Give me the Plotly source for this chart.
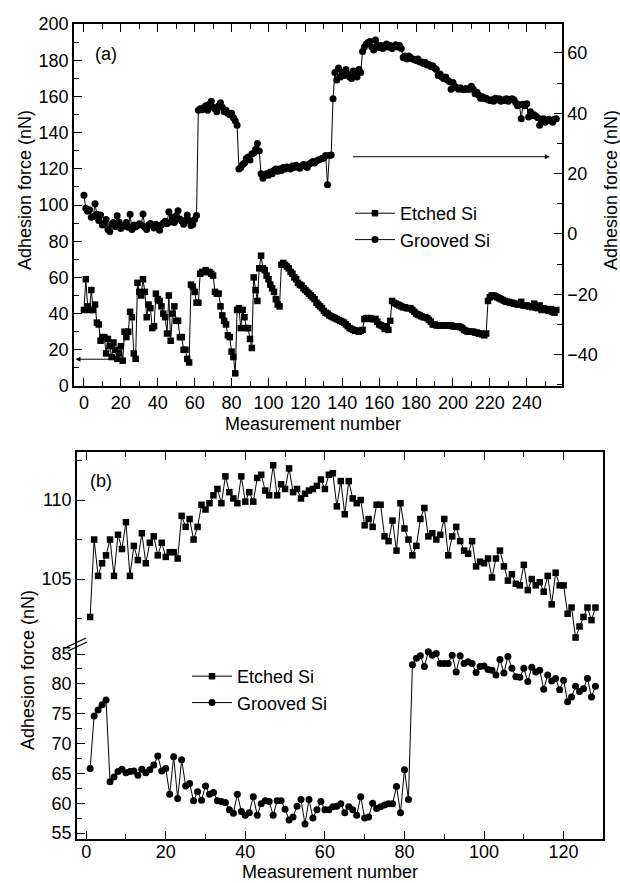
import plotly.graph_objects as go

# ---------------- Panel (a) data ----------------
etched_a = [
    42, 59, 44, 42, 53, 42, 45, 35, 34, 25,
    27, 27, 18, 26, 22, 16, 24, 20, 15, 18,
    22, 14, 30, 27, 30, 41, 38, 18, 15, 57,
    52, 50, 59, 52, 38, 45, 43, 32, 33, 51,
    48, 47, 44, 40, 38, 29, 50, 25, 40, 44,
    36, 36, 27, 27, 20, 20, 15, 13, 56, 55,
    52, 46, 46, 62, 63, 63, 64, 63, 63, 62,
    61, 52, 51, 51, 44, 39, 36, 34, 28, 27,
    19, 16, 7, 42, 43, 32, 42, 38, 32, 32,
    26, 21, 60, 53, 47, 65, 72, 65, 64, 61,
    59, 56, 54, 52, 48, 45, 44, 67, 68, 67,
    66, 65, 63, 62, 60, 59, 57, 56, 55.5, 54,
    53, 52, 51, 50, 49, 48, 46, 45, 44, 43,
    41.5, 40.5, 40, 39, 38.5, 38, 37.5, 37, 36.5, 36,
    35.5, 35, 34, 33, 32, 31.5, 31, 30.5, 30.5, 30,
    30.5, 31, 37, 37.5, 37.5, 37.5, 37, 37, 37, 35.5,
    34, 33.5, 33, 31.5, 33, 31, 36, 47, 46, 45.5,
    45, 44.5, 44, 43.5, 43.5, 43, 43, 43, 42, 41,
    40, 39.5, 39, 38.5, 38, 38, 37.5, 36.5, 35.5, 34,
    34, 33.5, 33.5, 33.5, 33.5, 33.5, 33.5, 33.5, 33.5, 33.5,
    33, 33, 33, 33, 32.5, 32, 31, 30.5, 30, 30,
    30, 30, 29.5, 29.5, 29, 29, 28.5, 28, 29, 47,
    49, 50, 50, 49.5, 49, 48.5, 48, 47.5, 47, 46.5,
    46.5, 46, 46, 45.5, 45.5, 45, 45, 46.5, 44.5, 44.5,
    44.5, 44, 44, 43.5, 45.5, 43.5, 43, 44.5, 42, 43,
    42.5, 42, 41.5, 42.5, 41, 40.5, 42,
]

# Grooved Si in panel (a) is read on the right-hand axis
grooved_a = [
    12.8, 8.5, 7.5, 8.0, 5.5, 5.8, 10.0, 6.5, 4.5, 6.3,
    3.0, 3.5, 4.8, 1.5, 0.8, 3.2, 3.8, 2.5, 6.0, 4.0,
    1.8, 2.5, 3.0, 3.8, 2.2, 6.5, 1.5, 3.0, 2.4, 2.8,
    3.4, 3.0, 6.6, 2.2, 1.5, 3.0, 3.5, 2.8, 2.0, 3.2,
    2.6, 1.2, 3.0, 3.6, 4.2, 3.4, 7.4, 4.0, 5.5, 3.8,
    6.0, 7.7, 5.0, 4.2, 3.2, 4.5, 6.3, 4.5, 2.8, 3.1,
    4.8, 6.1,
    41.0, 41.5, 41.2, 41.8, 42.5, 41.0, 43.0, 44.0, 42.0, 41.5,
    40.5, 42.5, 43.5, 42.0, 40.5, 41.0, 40.0, 39.5, 40.0, 38.5,
    37.5, 36.0,
    21.5, 22.0, 23.0, 23.5, 25.0, 25.5, 24.5, 26.5, 26.8, 28.0,
    30.0, 27.5,
    20.0, 18.5, 19.5, 20.0, 19.5, 20.5, 20.0, 21.0, 21.5, 20.8,
    21.5, 21.0, 22.0, 21.5, 22.2, 22.0, 21.5, 22.5, 22.0, 22.8,
    22.3, 21.8, 22.5, 23.0, 22.5, 22.0, 23.2, 23.5, 24.0, 23.5,
    24.2, 24.5, 24.8, 25.0, 25.2, 26.0, 16.3, 26.0, 26.2,
    44.8,
    53.5, 51.0, 55.0, 52.0, 53.5, 52.5, 54.5, 53.0, 52.0, 51.5,
    54.0, 53.0, 52.0, 54.5, 53.5,
    60.5, 62.0, 63.0, 63.5, 63.8, 62.0, 61.0, 64.3, 62.5, 61.8,
    62.5, 61.5, 62.0, 63.0, 62.0, 62.5, 61.5, 62.0, 62.7, 62.0,
    62.5, 61.5,
    58.5, 59.0, 58.0, 59.0, 58.5, 58.0, 57.8, 57.5, 58.0, 57.0,
    57.0, 56.5, 56.8, 56.0, 56.2, 55.5, 55.8, 55.0, 54.5, 52.5,
    53.0, 52.0, 51.5, 52.0, 51.0, 50.5, 48.0, 50.2, 49.0, 48.5,
    48.0, 48.5, 48.0, 47.8, 48.2, 48.0, 48.0, 49.0, 48.0, 46.5,
    47.0, 46.0, 45.0, 45.5, 44.8, 45.0, 44.5, 44.2, 44.5, 44.0,
    45.0, 44.5, 44.8, 44.0, 44.5, 44.2, 44.8, 44.0, 44.5, 44.8,
    44.5, 43.5, 42.5, 42.8, 38.2, 43.0, 42.5, 43.2, 38.8, 40.5,
    39.3, 39.5, 39.0, 38.5, 36.0, 37.5, 38.2, 37.0, 37.5, 38.0,
    37.6, 37.0, 38.0, 38.2,
]

x_a_etched = list(range(len(etched_a)))
x_a_grooved = list(range(len(grooved_a)))

# ---------------- Panel (b) data ----------------
etched_b = [
    102.6, 107.5, 105.2, 106.0, 106.5, 107.5, 105.2, 107.8, 106.9, 108.6,
    105.2, 107.1, 106.2, 107.9, 106.0, 107.3, 107.7, 106.5, 107.3, 106.4,
    106.7, 106.7, 106.3, 109.0, 108.3, 108.8, 107.5, 108.3, 109.7, 109.4,
    109.8, 110.3, 110.7, 109.8, 111.5, 110.5, 110.1, 109.8, 111.5, 109.9,
    110.5, 109.9, 111.4, 111.6, 110.6, 110.3, 112.2, 110.3, 111.0, 110.7,
    112.0, 110.5, 110.7,
    110.1, 110.4, 110.6, 110.7, 110.9, 111.3, 110.7, 111.6, 111.7, 109.6,
    111.2, 109.1, 111.2, 110.1, 109.8, 110.0, 108.4, 108.8, 108.3, 109.7,
    109.7, 107.7, 107.4, 108.7, 106.8, 109.8, 108.2, 107.5, 106.5, 107.1,
    108.8, 109.5, 107.7, 107.9, 107.5, 107.8, 108.8, 106.5, 107.7, 108.3,
    107.4, 106.8, 106.6, 107.4, 105.8, 106.1, 106.0, 106.3, 105.1, 106.3,
    106.8, 105.8, 104.9, 105.3, 104.7, 104.6, 105.9, 104.3, 105.0, 104.6,
    104.8, 104.2, 105.2, 103.4, 105.4, 104.6, 104.6, 102.8, 103.2, 101.3,
    102.0, 102.6, 103.2, 102.4, 103.2,
]

grooved_b = [
    65.8, 74.6, 75.6, 76.5, 77.3, 63.6, 64.4, 65.3, 65.7, 65.1,
    65.3, 65.4, 64.7, 65.7, 65.1, 65.6, 66.4, 67.9, 65.4, 65.8,
    61.5, 67.8, 60.8, 67.3, 62.9, 63.3, 60.4, 61.9, 60.5, 62.9,
    61.5, 61.8, 60.4, 60.3, 60.1, 58.9, 58.3, 61.5, 58.6, 58.0,
    58.4, 61.1, 58.0, 59.9, 60.4, 60.3, 58.0, 60.4, 60.4, 59.0,
    57.2, 57.7, 59.5, 60.6, 56.5, 60.6, 57.5, 58.9, 60.3,
    58.9, 58.9, 59.4, 59.5, 59.9, 58.4, 59.4, 58.9, 58.0, 61.1,
    57.5, 57.7, 60.0, 59.1, 59.4, 59.7, 59.9, 59.9, 62.8, 58.4,
    65.6, 60.6, 83.2, 84.3, 84.7, 82.9, 85.4, 84.8, 85.1, 83.4,
    83.4, 83.4, 84.8, 82.0, 84.7, 83.4, 83.7, 83.4, 81.9, 82.9,
    83.0, 82.4, 82.3, 81.5, 84.1, 81.8, 84.6, 82.6, 81.2, 81.1,
    82.6, 80.4, 82.8, 82.0, 82.3, 79.1, 81.5, 80.5, 80.9, 79.0,
    80.6, 77.0, 77.8, 79.6, 78.7, 79.2, 80.9, 77.8, 79.6,
]

x_b_etched = list(range(1, len(etched_b) + 1))
x_b_grooved = list(range(1, len(grooved_b) + 1))

series_names = ["Etched Si", "Grooved Si"]
x_title = "Measurement number"
y_title = "Adhesion force (nN)"

# ---------------- Figure ----------------
W, H = 620, 883
FONT = "Liberation Sans, Arial, Helvetica, sans-serif"


def px_x(p):
    return p / W


def px_y(p):
    return 1 - p / H


line_style = dict(color="black", width=1)

fig = go.Figure()

fig.add_trace(go.Scatter(
    x=x_a_etched, y=etched_a, name=series_names[0], mode="lines+markers",
    line=line_style, marker=dict(symbol="square", size=6.5, color="black"),
    xaxis="x", yaxis="y", legend="legend"))
fig.add_trace(go.Scatter(
    x=x_a_grooved, y=grooved_a, name=series_names[1], mode="lines+markers",
    line=line_style, marker=dict(symbol="circle", size=7, color="black"),
    xaxis="x", yaxis="y2", legend="legend"))

fig.add_trace(go.Scatter(
    x=x_b_etched, y=etched_b, name=series_names[0], mode="lines+markers",
    line=line_style, marker=dict(symbol="square", size=6.5, color="black"),
    xaxis="x3", yaxis="y4", legend="legend2"))
fig.add_trace(go.Scatter(
    x=x_b_grooved, y=grooved_b, name=series_names[1], mode="lines+markers",
    line=line_style, marker=dict(symbol="circle", size=7, color="black"),
    xaxis="x2", yaxis="y3", legend="legend2"))

tickfont = dict(family=FONT, size=18, color="black")
common = dict(showline=True, linecolor="black", linewidth=1.5, ticks="inside",
              ticklen=8, tickwidth=1.3, tickcolor="black", showgrid=False,
              zeroline=False, tickfont=tickfont, automargin=False)
minor = lambda d: dict(dtick=d, ticks="inside", ticklen=5, tickwidth=1.3,
                       tickcolor="black", showgrid=False)

# panel (a)
dom_a_x = [px_x(74), px_x(562)]
dom_a_y = [px_y(386), px_y(24)]
# panel (b)
dom_b_x = [px_x(77), px_x(603)]
dom_b_low = [px_y(839), px_y(644)]
dom_b_up = [px_y(644), px_y(452)]

fig.update_layout(
    template="none",
    width=W, height=H, autosize=False,
    margin=dict(l=0, r=0, t=0, b=0, pad=0),
    paper_bgcolor="white", plot_bgcolor="white",
    font=dict(family=FONT, size=18, color="black"),
    xaxis=dict(domain=dom_a_x, anchor="y", range=[-5.4, 259.1], tick0=0,
               dtick=20, mirror="ticks", minor=minor(10), **common),
    yaxis=dict(domain=dom_a_y, anchor="x", range=[0, 200], tick0=0, dtick=20,
               minor=minor(10), **common),
    yaxis2=dict(overlaying="y", anchor="x", side="right", range=[-50.4, 69.6],
                tick0=0, dtick=20, minor=minor(10), **common),
    xaxis2=dict(domain=dom_b_x, anchor="y3", range=[-2.3, 129.9], tick0=0,
                dtick=20, minor=minor(10), ticklabelstandoff=-4, **common),
    xaxis3=dict(domain=dom_b_x, anchor="y4", matches="x2", side="top",
                showticklabels=False, tick0=0, dtick=20, minor=minor(10),
                **common),
    yaxis3=dict(domain=dom_b_low, anchor="x2", range=[54.0, 86.68], tick0=0,
                dtick=5, mirror=True, minor=minor(2.5), **common),
    yaxis4=dict(domain=dom_b_up, anchor="x3", range=[100.89, 113.04], tick0=0,
                dtick=5, mirror=True, minor=minor(2.5), **common),
    legend=dict(x=px_x(350), y=px_y(195), xanchor="left", yanchor="top",
                bgcolor="rgba(0,0,0,0)", font=dict(family=FONT, size=18),
                itemwidth=40, tracegroupgap=0, borderwidth=0),
    legend2=dict(x=px_x(187), y=px_y(658), xanchor="left", yanchor="top",
                 bgcolor="rgba(0,0,0,0)", font=dict(family=FONT, size=18),
                 itemwidth=40, tracegroupgap=0, borderwidth=0),
)


def label(text, x, y, angle=0):
    return dict(text=text, x=px_x(x), y=px_y(y), xref="paper", yref="paper",
                xanchor="center", yanchor="middle", showarrow=False,
                textangle=angle, font=dict(family=FONT, size=18))


annotations = [
    label("(a)", 106, 54),
    label("(b)", 101, 481),
    label(y_title, 25, 190, -90),
    label(y_title, 611, 190, -90),
    label(x_title, 313, 424),
    label(y_title, 28, 670, -90),
    label(x_title, 330, 872),
    # arrows indicating which axis each curve belongs to
    dict(x=-4.6, y=14.8, ax=15, ay=14.8, xref="x", yref="y", axref="x",
         ayref="y", showarrow=True, arrowhead=2, arrowsize=1, arrowwidth=1,
         arrowcolor="black", text=""),
    dict(x=252.5, y=25.6, ax=145, ay=25.6, xref="x", yref="y2", axref="x",
         ayref="y2", showarrow=True, arrowhead=2, arrowsize=1, arrowwidth=1,
         arrowcolor="black", text=""),
]
fig.update_layout(annotations=annotations)

# axis-break marks on the left axis of panel (b)
shapes = [
    dict(type="line", xref="paper", yref="paper", x0=px_x(67), y0=px_y(647),
         x1=px_x(86), y1=px_y(638), line=dict(color="black", width=1.3)),
    dict(type="line", xref="paper", yref="paper", x0=px_x(68), y0=px_y(651),
         x1=px_x(87), y1=px_y(642), line=dict(color="black", width=1.3)),
]
fig.update_layout(shapes=shapes)

fig.write_html("out.html")
